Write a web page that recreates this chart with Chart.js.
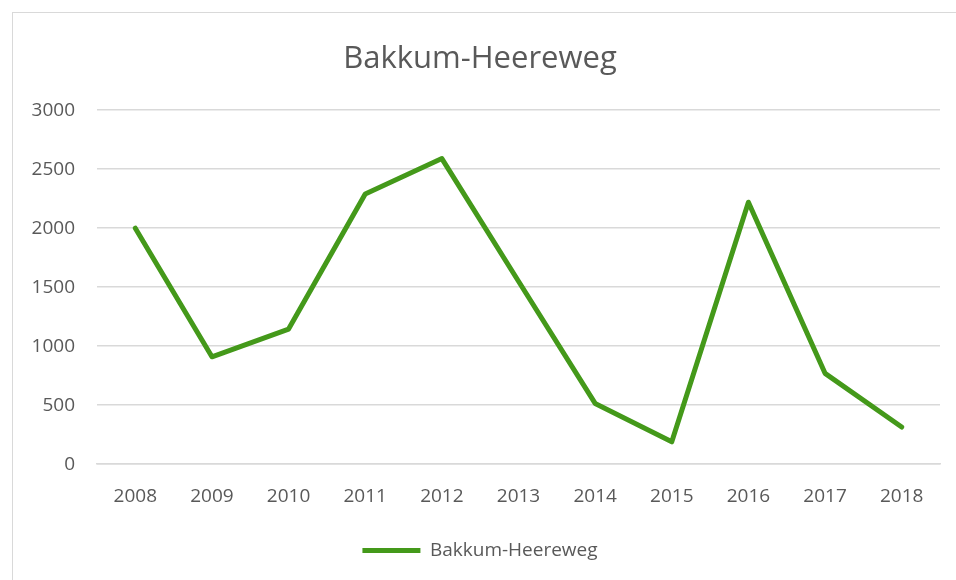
<!DOCTYPE html>
<html>
<head>
<meta charset="utf-8">
<script src="https://cdn.jsdelivr.net/npm/chart.js@4.4.1/dist/chart.umd.min.js"></script>
<style>
    html, body { margin: 0; padding: 0; background: #fff; }
    #wrap { position: relative; width: 956px; height: 580px; overflow: hidden; }
    #frame { position: absolute; left: 12px; top: 12px; width: 960px; height: 580px; border: 1px solid #d9d9d9; box-sizing: border-box; }
    #holder { position: absolute; left: 0; top: 0; width: 956px; height: 580px; }
</style>
</head>
<body>
<div id="wrap">
    <div id="frame"></div>
    <div id="holder"><canvas id="lineChart"></canvas></div>
</div>
<script>
// Data
const years = ['2008', '2009', '2010', '2011', '2012', '2013', '2014', '2015', '2016', '2017', '2018'];
const counts = [2000, 910, 1145, 2290, 2590, 1550, 515, 190, 2220, 770, 315];
const yTicks = [0, 500, 1000, 1500, 2000, 2500, 3000];

const textColor = '#595959';
const gridColor = '#d9d9d9';
const lineColor = '#44991a';
const fontFamily = '"Open Sans", "Noto Sans", sans-serif';

document.addEventListener('DOMContentLoaded', function() {
    initializeLineChart();
});

function initializeLineChart() {
    const ctx = document.getElementById('lineChart');
    if (!ctx) return;

    new Chart(ctx.getContext('2d'), {
        type: 'line',
        data: {
            labels: years,
            datasets: [{
                label: 'Bakkum-Heereweg',
                data: counts,
                borderColor: lineColor,
                backgroundColor: lineColor,
                borderWidth: 5,
                borderCapStyle: 'round',
                borderJoinStyle: 'round',
                pointRadius: 0,
                pointStyle: 'line',
                tension: 0
            }]
        },
        options: {
            responsive: true,
            maintainAspectRatio: false,
            animation: false,
            layout: {
                padding: { top: 41, left: 20, right: 16, bottom: 10 }
            },
            plugins: {
                title: {
                    display: true,
                    text: 'Bakkum-Heereweg',
                    color: textColor,
                    font: { family: fontFamily, size: 31, weight: 'normal' },
                    padding: { top: 0, bottom: 32 }
                },
                legend: {
                    display: true,
                    position: 'bottom',
                    labels: {
                        color: textColor,
                        font: { family: fontFamily, size: 19 },
                        usePointStyle: true,
                        pointStyle: 'line',
                        pointStyleWidth: 58,
                        boxWidth: 58,
                        padding: 12
                    }
                },
                tooltip: { enabled: false }
            },
            scales: {
                x: {
                    offset: true,
                    grid: { display: false, drawTicks: false },
                    border: { display: true, color: gridColor, width: 1.5 },
                    ticks: {
                        color: textColor,
                        font: { family: fontFamily, size: 19 },
                        padding: 21,
                        maxRotation: 0
                    }
                },
                y: {
                    min: 0,
                    max: 3000,
                    afterFit: function(scale) { scale.width = 77; },
                    afterBuildTicks: function(scale) {
                        scale.ticks = yTicks.map(v => ({ value: v }));
                    },
                    grid: { color: gridColor, lineWidth: 1.5, drawTicks: false },
                    border: { display: false },
                    ticks: {
                        color: textColor,
                        font: { family: fontFamily, size: 19 },
                        padding: 22,
                        callback: function(value) { return String(value); }
                    }
                }
            }
        }
    });
}
</script>
</body>
</html>
